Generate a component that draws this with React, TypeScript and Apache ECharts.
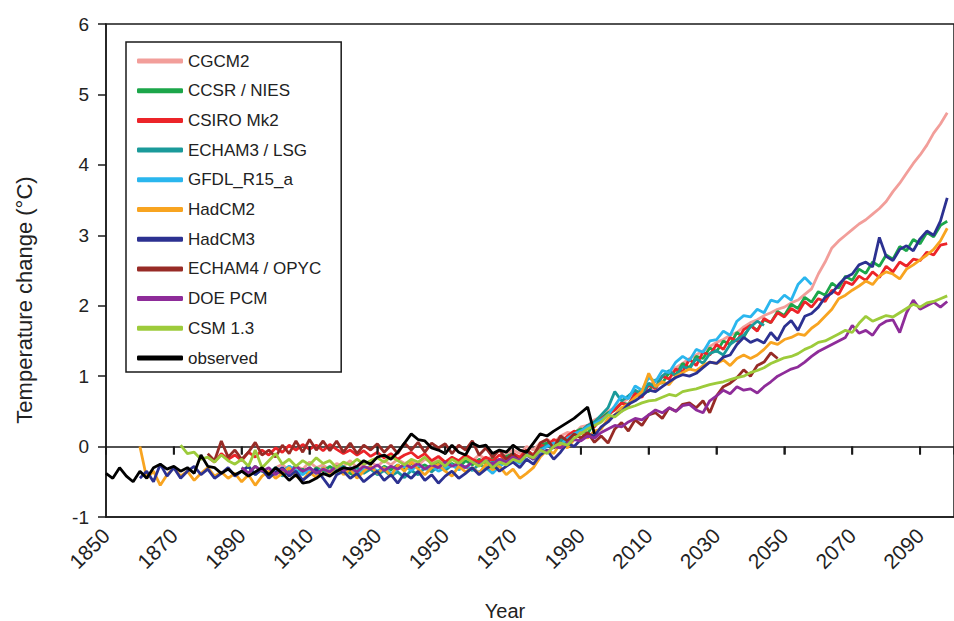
import { useEffect, useRef } from "react";
import * as echarts from "echarts";

// ---- data (values every 2 years) ----
const seriesNames = [
  "CGCM2",
  "CCSR / NIES",
  "CSIRO Mk2",
  "ECHAM3 / LSG",
  "GFDL_R15_a",
  "HadCM2",
  "HadCM3",
  "ECHAM4 / OPYC",
  "DOE PCM",
  "CSM 1.3",
  "observed",
];

const cgcm2Start = 1900;
const cgcm2 = [
  -0.30, -0.25, -0.35, -0.28, -0.32,
  -0.22, -0.30, -0.26, -0.34, -0.24,
  -0.28, -0.20, -0.30, -0.25, -0.22,
  -0.28, -0.20, -0.26, -0.18, -0.24,
  -0.20, -0.27, -0.18, -0.22, -0.15,
  -0.24, -0.18, -0.22, -0.15, -0.20,
  -0.12, -0.18, -0.14, -0.20, -0.10,
  -0.05, -0.10, 0.00, -0.05, 0.05,
  0.10, 0.05, 0.15, 0.20, 0.18,
  0.28, 0.30, 0.38, 0.42, 0.50,
  0.55, 0.62, 0.68, 0.75, 0.80,
  0.88, 0.92, 1.00, 1.05, 1.12,
  1.18, 1.25, 1.30, 1.36, 1.42,
  1.48, 1.52, 1.58, 1.62, 1.70,
  1.76, 1.80, 1.86, 1.90, 1.95,
  1.98, 2.04, 2.08, 2.16, 2.24,
  2.45, 2.62, 2.82, 2.92, 3.00,
  3.08, 3.16, 3.22, 3.30, 3.38,
  3.48, 3.62, 3.74, 3.88, 4.02,
  4.14, 4.28, 4.45, 4.58, 4.74,
];

const ccsrStart = 1890;
const ccsr = [
  -0.30, -0.38, -0.28, -0.35, -0.40,
  -0.30, -0.36, -0.28, -0.38, -0.32,
  -0.40, -0.30, -0.35, -0.28, -0.36,
  -0.30, -0.38, -0.42, -0.35, -0.30,
  -0.36, -0.28, -0.33, -0.26, -0.32,
  -0.24, -0.30, -0.26, -0.32, -0.22,
  -0.28, -0.24, -0.30, -0.20, -0.26,
  -0.18, -0.24, -0.16, -0.22, -0.14,
  -0.10, -0.16, -0.05, -0.12, 0.02,
  0.05, 0.00, 0.12, 0.08, 0.20,
  0.25, 0.18, 0.35, 0.40, 0.48,
  0.52, 0.62, 0.60, 0.74, 0.80,
  0.78, 0.95, 0.90, 1.05, 1.02,
  1.18, 1.12, 1.28, 1.25, 1.40,
  1.35, 1.50, 1.45, 1.62, 1.55,
  1.72, 1.65, 1.80, 1.76, 1.92,
  1.86, 2.02, 1.96, 2.12, 2.05,
  2.20, 2.15, 2.32, 2.25, 2.42,
  2.36, 2.52, 2.46, 2.62, 2.56,
  2.72, 2.66, 2.84, 2.78, 2.94,
  2.88, 3.04, 2.98, 3.14, 3.20,
];

const csiroStart = 1880;
const csiro = [
  -0.15, -0.22, -0.10, -0.18, -0.12,
  -0.20, -0.08, -0.15, -0.05, -0.12,
  -0.02, -0.08, 0.02, -0.05, 0.03,
  -0.04, 0.02, -0.06, 0.03, -0.04,
  -0.10, -0.05, -0.12, -0.06, -0.14,
  -0.08, -0.16, -0.10, -0.18, -0.12,
  -0.08, -0.16, -0.10, -0.20, -0.14,
  -0.22, -0.15, -0.20, -0.12, -0.18,
  -0.22, -0.15, -0.20, -0.12, -0.18,
  -0.10, -0.15, -0.05, -0.12, 0.02,
  0.00, 0.10, 0.06, 0.15, 0.22,
  0.18, 0.30, 0.28, 0.40, 0.45,
  0.52, 0.62, 0.58, 0.76, 0.70,
  0.88, 0.82, 1.00, 0.96, 1.10,
  1.06, 1.24, 1.15, 1.34, 1.30,
  1.45, 1.38, 1.55, 1.50, 1.66,
  1.72, 1.64, 1.82, 1.76, 1.90,
  1.84, 1.96, 1.90, 2.06, 1.98,
  2.10, 2.06, 2.22, 2.16, 2.34,
  2.30, 2.42, 2.36, 2.48, 2.40,
  2.56, 2.48, 2.62, 2.56, 2.66,
  2.64, 2.76, 2.72, 2.86, 2.88,
];

const echam3Start = 1890;
const echam3 = [
  -0.35, -0.28, -0.40, -0.32, -0.38,
  -0.30, -0.42, -0.34, -0.28, -0.36,
  -0.30, -0.38, -0.32, -0.40, -0.34,
  -0.28, -0.36, -0.30, -0.38, -0.32,
  -0.40, -0.34, -0.42, -0.36, -0.44,
  -0.34, -0.40, -0.30, -0.36, -0.28,
  -0.34, -0.26, -0.32, -0.28, -0.34,
  -0.25, -0.30, -0.22, -0.28, -0.20,
  -0.15, -0.22, -0.10, -0.18, -0.05,
  0.02, -0.02, 0.10, 0.05, 0.18,
  0.22, 0.30, 0.35, 0.45, 0.55,
  0.78, 0.65, 0.72, 0.80, 0.74,
  0.90, 0.84, 1.00, 1.08, 1.00,
  1.14, 1.10, 1.25, 1.18, 1.32,
  1.36, 1.30, 1.45, 1.52, 1.58,
  1.70, 1.78, 1.72,
];

const gfdlStart = 1900;
const gfdl = [
  -0.30, -0.36, -0.28, -0.34, -0.40,
  -0.32, -0.38, -0.30, -0.36, -0.28,
  -0.34, -0.30, -0.38, -0.32, -0.28,
  -0.35, -0.30, -0.38, -0.32, -0.28,
  -0.34, -0.26, -0.32, -0.28, -0.35,
  -0.30, -0.26, -0.33, -0.28, -0.32,
  -0.36, -0.30, -0.38, -0.28, -0.22,
  -0.18, -0.24, -0.12, -0.18, -0.06,
  0.00, 0.05, 0.02, 0.12, 0.18,
  0.22, 0.28, 0.32, 0.38, 0.45,
  0.58, 0.72, 0.68, 0.86, 0.80,
  0.98, 0.92, 1.08, 1.05, 1.20,
  1.28, 1.22, 1.38, 1.34, 1.50,
  1.52, 1.64, 1.58, 1.78, 1.86,
  1.84, 1.95, 1.90, 2.08, 2.05,
  2.15, 2.08, 2.30, 2.40, 2.30,
];

const hadcm2Start = 1860;
const hadcm2 = [
  0.00, -0.45, -0.35, -0.55, -0.40,
  -0.30, -0.42, -0.35, -0.48, -0.38,
  -0.30, -0.42, -0.36, -0.45, -0.38,
  -0.50, -0.40, -0.55, -0.42, -0.35,
  -0.45, -0.38, -0.30, -0.42, -0.48,
  -0.36, -0.44, -0.30, -0.38, -0.28,
  -0.40, -0.32, -0.45, -0.35, -0.28,
  -0.38, -0.30, -0.42, -0.26, -0.35,
  -0.22, -0.32, -0.40, -0.30, -0.25,
  -0.35, -0.42, -0.28, -0.36, -0.30,
  -0.38, -0.25, -0.33, -0.28, -0.40,
  -0.32, -0.45, -0.38, -0.30, -0.15,
  -0.05, -0.10, 0.05, -0.02, 0.10,
  0.20, 0.12, 0.22, 0.25, 0.40,
  0.45, 0.55, 0.60, 0.70, 0.78,
  1.04, 0.85, 0.92, 0.88, 1.00,
  1.05, 1.10, 1.08, 1.15, 1.20,
  1.18, 1.23, 1.15, 1.25, 1.30,
  1.25, 1.30, 1.38, 1.48, 1.45,
  1.52, 1.55, 1.60, 1.58, 1.68,
  1.75, 1.85, 1.95, 2.10, 2.15,
  2.22, 2.28, 2.35, 2.30, 2.42,
  2.48, 2.45, 2.38, 2.52, 2.58,
  2.65, 2.72, 2.80, 2.92, 3.10,
];

const hadcm3Start = 1860;
const hadcm3 = [
  -0.45, -0.35, -0.50, -0.25, -0.42,
  -0.30, -0.45, -0.35, -0.28, -0.40,
  -0.32, -0.45, -0.38, -0.30, -0.42,
  -0.35, -0.28, -0.40, -0.32, -0.45,
  -0.36, -0.30, -0.42, -0.35, -0.48,
  -0.40, -0.32, -0.45, -0.58, -0.40,
  -0.35, -0.45, -0.38, -0.50, -0.42,
  -0.35, -0.48, -0.40, -0.52, -0.38,
  -0.45, -0.35, -0.48, -0.40, -0.52,
  -0.42, -0.35, -0.45, -0.38, -0.30,
  -0.40, -0.32, -0.25, -0.35, -0.28,
  -0.22, -0.30, -0.18, -0.25, -0.12,
  -0.05, -0.18, -0.08, 0.05, 0.00,
  0.10, 0.18, 0.15, 0.28, 0.35,
  0.45, 0.50, 0.60, 0.65, 0.72,
  0.80, 0.78, 0.85, 0.92, 0.98,
  1.02, 1.00, 1.04, 1.12, 1.20,
  1.18, 1.27, 1.30, 1.45, 1.55,
  1.48, 1.52, 1.47, 1.62, 1.51,
  1.70, 1.79, 1.65, 1.85, 1.89,
  1.98, 2.12, 2.18, 2.30, 2.40,
  2.45, 2.58, 2.62, 2.55, 2.97,
  2.70, 2.64, 2.80, 2.85, 2.78,
  2.95, 3.06, 3.00, 3.20, 3.53,
];

const echam4Start = 1880;
const echam4 = [
  -0.10, -0.20, 0.08, -0.15, -0.05,
  -0.18, -0.08, 0.06, -0.12, -0.05,
  -0.15, 0.02, -0.10, 0.08, -0.08,
  0.10, -0.05, 0.08, -0.06, 0.08,
  -0.08, 0.05, -0.10, 0.02, -0.05,
  0.04, -0.08, 0.02, -0.10, 0.05,
  -0.05, 0.06, -0.08, 0.05, -0.02,
  0.04, -0.10, 0.02, -0.05, 0.08,
  -0.12, -0.02, -0.15, -0.05, -0.18,
  -0.10, -0.22, -0.05, -0.15, 0.05,
  0.10, -0.02, 0.15, 0.08, 0.18,
  0.12, 0.20, 0.06, 0.15, 0.05,
  0.25, 0.34, 0.22, 0.38, 0.30,
  0.45, 0.48, 0.40, 0.55, 0.50,
  0.60, 0.62, 0.55, 0.65, 0.48,
  0.72, 0.85, 0.90, 0.98, 1.09,
  1.00, 1.15, 1.20, 1.33, 1.25,
];

const doeStart = 1890;
const doe = [
  -0.30, -0.38, -0.28, -0.35, -0.30,
  -0.40, -0.32, -0.38, -0.28, -0.35,
  -0.30, -0.38, -0.32, -0.36, -0.28,
  -0.34, -0.30, -0.36, -0.28, -0.32,
  -0.26, -0.34, -0.28, -0.32, -0.25,
  -0.30, -0.24, -0.32, -0.26, -0.30,
  -0.22, -0.28, -0.24, -0.30, -0.22,
  -0.26, -0.20, -0.25, -0.18, -0.22,
  -0.15, -0.20, -0.12, -0.18, -0.05,
  -0.08, 0.00, -0.02, 0.05, 0.10,
  0.08, 0.15, 0.12, 0.20, 0.25,
  0.30, 0.28, 0.35, 0.40, 0.38,
  0.45, 0.52, 0.48, 0.55, 0.50,
  0.58, 0.60, 0.52, 0.48, 0.65,
  0.72, 0.80, 0.75, 0.85, 0.80,
  0.82, 0.76, 0.85, 0.92, 1.00,
  1.05, 1.10, 1.13, 1.20, 1.28,
  1.35, 1.40, 1.45, 1.50, 1.55,
  1.72, 1.61, 1.65, 1.58, 1.72,
  1.78, 1.80, 1.62, 1.90, 2.08,
  1.95, 2.00, 2.05, 1.98, 2.06,
];

const csmStart = 1872;
const csm = [
  0.02, -0.10, -0.08, -0.18,
  -0.15, -0.22, -0.12, -0.20, -0.25,
  -0.18, -0.28, -0.05, -0.30, -0.20,
  -0.10, -0.25, -0.18, -0.28, -0.20,
  -0.26, -0.16, -0.24, -0.20, -0.30,
  -0.22, -0.26, -0.18, -0.25, -0.20,
  -0.16, -0.22, -0.14, -0.20, -0.26,
  -0.18, -0.22, -0.15, -0.25, -0.20,
  -0.28, -0.18, -0.24, -0.16, -0.22,
  -0.28, -0.20, -0.30, -0.22, -0.26,
  -0.18, -0.22, -0.12, -0.16, -0.05,
  -0.10, 0.00, 0.05, 0.02, 0.12,
  0.18, 0.25, 0.30, 0.35, 0.45,
  0.42, 0.50, 0.55, 0.58, 0.62,
  0.65, 0.66, 0.70, 0.74, 0.72,
  0.78, 0.80, 0.82, 0.85, 0.88,
  0.90, 0.92, 0.95, 0.98, 1.00,
  1.05, 1.08, 1.12, 1.18, 1.22,
  1.26, 1.28, 1.32, 1.38, 1.42,
  1.48, 1.50, 1.55, 1.60, 1.65,
  1.62, 1.75, 1.85, 1.78, 1.82,
  1.86, 1.84, 1.90, 1.96, 2.02,
  1.98, 2.04, 2.06, 2.10, 2.14,
];

const observedStart = 1850;
const observed = [
  -0.38, -0.45, -0.30, -0.42, -0.50,
  -0.35, -0.45, -0.30, -0.25, -0.32,
  -0.28, -0.35, -0.30, -0.38, -0.12,
  -0.28, -0.30, -0.38, -0.32, -0.40,
  -0.35, -0.42, -0.36, -0.30, -0.40,
  -0.30, -0.38, -0.48, -0.40, -0.52,
  -0.50, -0.45, -0.38, -0.42, -0.35,
  -0.30, -0.32, -0.28, -0.20, -0.25,
  -0.15, -0.12, -0.18, -0.08, 0.05,
  0.18, 0.10, 0.08, -0.02, -0.05,
  -0.10, 0.02, -0.08, -0.12, 0.05,
  0.00, 0.02, -0.10, -0.05, -0.08,
  0.02, -0.05, -0.08, 0.05, 0.18,
  0.15, 0.22, 0.28, 0.34, 0.40,
  0.48, 0.56, 0.18,
];

// years that carry a small tick on the zero line
const zeroLineTickYears = [1850, 1870, 1890, 1910, 1930, 1950, 1970, 1990, 2010, 2030, 2050, 2070, 2090];

const yearStep = 2;
const xMin = 1850;
const xMax = 2100;
const xInterval = 20;
const yMin = -1;
const yMax = 6;
const yInterval = 1;

// ---- styles ----
const seriesColors = [
  "#F29E9A",
  "#1CA64A",
  "#EC2429",
  "#1A9A9A",
  "#2AB6EE",
  "#F8A420",
  "#2C3191",
  "#972B26",
  "#8E2C99",
  "#9DCB3B",
  "#000000",
];

const FONT = "'Liberation Sans', Arial, Helvetica, sans-serif";
const INK = "#1a1a1a";
const TICK_LEN = 8;
const TICK_W = 2;

const toPairs = (start: number, vals: number[]) =>
  vals.map((v, i) => [start + yearStep * i, v]);

export default function App() {
  const ref = useRef<HTMLDivElement>(null);

  useEffect(() => {
    if (!ref.current) return;
    const chart = echarts.init(ref.current, undefined, { renderer: "svg" });

    const dataSets = [
      toPairs(cgcm2Start, cgcm2),
      toPairs(ccsrStart, ccsr),
      toPairs(csiroStart, csiro),
      toPairs(echam3Start, echam3),
      toPairs(gfdlStart, gfdl),
      toPairs(hadcm2Start, hadcm2),
      toPairs(hadcm3Start, hadcm3),
      toPairs(echam4Start, echam4),
      toPairs(doeStart, doe),
      toPairs(csmStart, csm),
      toPairs(observedStart, observed),
    ];

    const axisLineStyle = { color: INK, width: 1.5 };

    const lineSeries = seriesNames.map((name, i) => ({
      name,
      type: "line",
      xAxisIndex: i === seriesNames.length - 1 ? 1 : 0,
      yAxisIndex: 0,
      data: dataSets[i],
      showSymbol: false,
      symbol: "none",
      clip: true,
      itemStyle: { color: seriesColors[i] },
      lineStyle: { color: seriesColors[i], width: 2.8 },
      emphasis: { disabled: true },
      z: 2,
    }));

    const tickSeries = {
      type: "custom",
      name: "zero-line ticks",
      xAxisIndex: 0,
      yAxisIndex: 0,
      silent: true,
      clip: false,
      z: 5,
      encode: { x: 0, y: 1 },
      data: zeroLineTickYears.map((y) => [y, 0]),
      renderItem: (_params: any, api: any) => {
        const p = api.coord([api.value(0), api.value(1)]);
        return {
          type: "rect",
          shape: { x: p[0] - TICK_W / 2, y: p[1], width: TICK_W, height: TICK_LEN },
          style: { fill: INK },
        };
      },
    };

    const option: any = {
      animation: false,
      backgroundColor: "#ffffff",
      textStyle: { fontFamily: FONT },
      grid: {
        left: 106,
        right: -7,
        top: 24,
        bottom: 104,
        show: true,
        borderColor: INK,
        borderWidth: 1.5,
        backgroundColor: "transparent",
      },
      xAxis: [
        {
          // drawn on y = 0
          type: "value",
          min: xMin,
          max: xMax,
          interval: xInterval,
          position: "bottom",
          axisLine: { show: true, onZero: true, lineStyle: axisLineStyle },
          axisTick: { show: true, length: TICK_LEN, lineStyle: axisLineStyle },
          axisLabel: { show: false },
          splitLine: { show: false },
        },
        {
          // bottom edge, carries the rotated year labels
          type: "value",
          min: xMin,
          max: xMax,
          interval: xInterval,
          position: "bottom",
          axisLine: { show: true, onZero: false, lineStyle: axisLineStyle },
          axisTick: { show: false },
          axisLabel: {
            rotate: 45,
            fontSize: 21,
            color: "#222",
            fontFamily: FONT,
            margin: 15,
            showMaxLabel: false,
            formatter: (v: number) => String(v),
          },
          splitLine: { show: false },
        },
      ],
      yAxis: {
        type: "value",
        min: yMin,
        max: yMax,
        interval: yInterval,
        axisLine: { show: true, lineStyle: axisLineStyle },
        axisTick: { show: true, length: 8, lineStyle: axisLineStyle },
        axisLabel: { fontSize: 19, color: "#222", fontFamily: FONT, margin: 17 },
        splitLine: { show: false },
      },
      legend: {
        orient: "vertical",
        left: 126,
        top: 42,
        padding: [10.5, 20, 5.5, 11],
        itemWidth: 46,
        itemHeight: 5,
        itemGap: 12.7,
        icon: "roundRect",
        borderColor: INK,
        borderWidth: 1.5,
        backgroundColor: "#ffffff",
        textStyle: { fontSize: 17, color: "#222", fontFamily: FONT },
        data: seriesNames,
      },
      graphic: [
        {
          type: "text",
          x: 24,
          y: 300,
          rotation: Math.PI / 2,
          style: {
            text: "Temperature change (°C)",
            fontSize: 22,
            fontFamily: FONT,
            fill: "#222",
            textAlign: "center",
            align: "center",
            textVerticalAlign: "middle",
            verticalAlign: "middle",
          },
        },
        {
          type: "text",
          x: 505,
          y: 611,
          style: {
            text: "Year",
            fontSize: 20,
            fontFamily: FONT,
            fill: "#222",
            textAlign: "center",
            align: "center",
            textVerticalAlign: "middle",
            verticalAlign: "middle",
          },
        },
      ],
      series: [...lineSeries, tickSeries],
    };

    chart.setOption(option);
    return () => chart.dispose();
  }, []);

  return (
    <div
      ref={ref}
      style={{ position: "absolute", left: 0, top: 0, width: 954, height: 621 }}
    />
  );
}
